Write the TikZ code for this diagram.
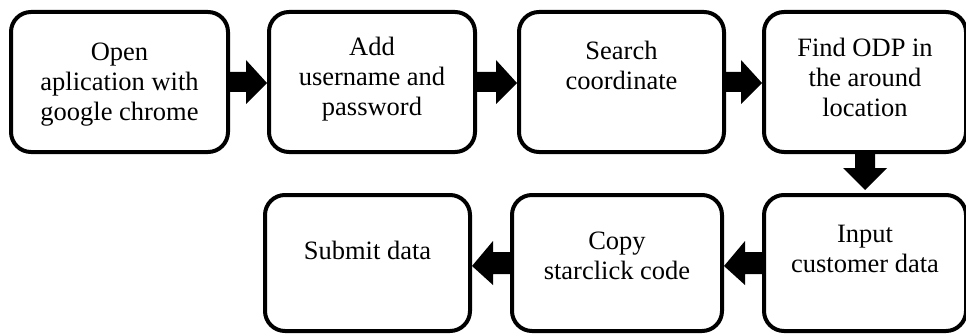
\documentclass[tikz,border=0pt]{standalone}
\usepackage{fontspec}
\setmainfont{Liberation Serif}
\usetikzlibrary{calc}
\begin{document}
\begin{tikzpicture}[x=1pt,y=-1pt,
  box/.style={draw,line width=4pt,rounded corners=20pt,inner sep=0pt,minimum height=140pt},
  lbl/.style={font=\fontsize{26.5}{30}\selectfont,align=center,anchor=base,inner sep=0pt},
  blk/.style={fill=black}]
\useasboundingbox (0,0) rectangle (966,334);
% top row
\node[box,minimum width=217pt] (b1) at (119.5,82) {};
\node[box,minimum width=206pt] (b2) at (372,82) {};
\node[box,minimum width=205pt] (b3) at (621.5,82) {};
\node[box,minimum width=202pt] (b4) at (865,82) {};
% bottom row
\node[box,minimum width=205pt,minimum height=136pt] (b5) at (367.5,263) {};
\node[box,minimum width=210pt,minimum height=136pt] (b6) at (617,263) {};
\node[box,minimum width=202pt,minimum height=136pt] (b7) at (865,263) {};
% labels (anchored at the baseline of the last line)
\node[lbl] (t1) at (119.5,121) {Open\\aplication with\\google chrome};
\node[lbl] (t2) at (372,116) {Add\\username and\\password};
\node[lbl] (t3) at (621.5,90) {Search\\coordinate};
\node[lbl] (t4) at (865,117) {Find ODP in\\the around\\location};
\node[lbl] (t5) at (367.5,259) {Submit data};
\node[lbl] (t6) at (617,279) {Copy\\starclick code};
\node[lbl] (t7) at (865,272) {Input\\customer data};
% block arrows (right)
\foreach \a/\b in {b1/b2,b2/b3,b3/b4}{
  \fill[blk] ($(\a.east)+(0,-10)$) -- ($(\b.west)+(-21,-10)$) -- ($(\b.west)+(-21,-22)$)
    -- ($(\b.west)+(0,1)$) -- ($(\b.west)+(-21,22)$) -- ($(\b.west)+(-21,10)$)
    -- ($(\a.east)+(0,10)$) -- cycle;
}
% down arrow
\fill[blk] ($(b4.south)+(-10,0)$) -- ($(b7.north)+(-10,-25)$) -- ($(b7.north)+(-22,-25)$)
  -- ($(b7.north)+(0,-3)$) -- ($(b7.north)+(22,-25)$) -- ($(b7.north)+(10,-25)$)
  -- ($(b4.south)+(10,0)$) -- cycle;
% block arrows (left)
\foreach \a/\b in {b7/b6,b6/b5}{
  \fill[blk] ($(\a.west)+(0,-11)$) -- ($(\b.east)+(21,-11)$) -- ($(\b.east)+(21,-22)$)
    -- ($(\b.east)+(0,3)$) -- ($(\b.east)+(21,22)$) -- ($(\b.east)+(21,11)$)
    -- ($(\a.west)+(0,11)$) -- cycle;
}
\end{tikzpicture}
\end{document}
